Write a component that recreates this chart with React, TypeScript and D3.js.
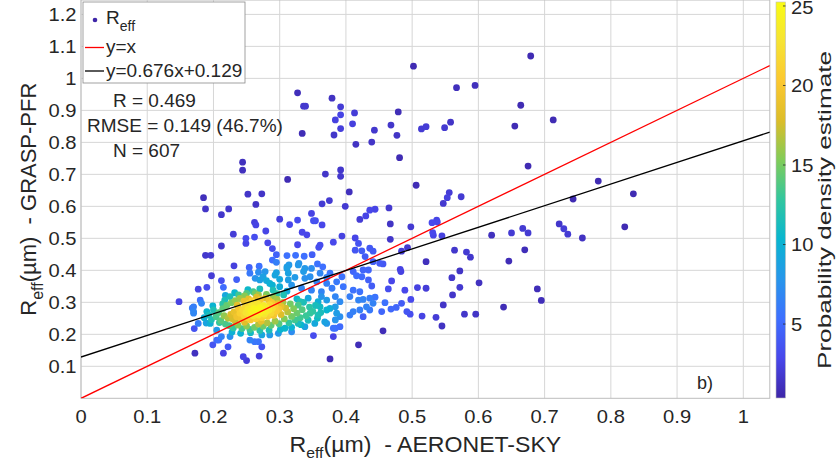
import React from 'react';
import * as d3 from 'd3';

const W = 836;
const H = 463;

// axis ticks
const xTicks = [0, 0.1, 0.2, 0.3, 0.4, 0.5, 0.6, 0.7, 0.8, 0.9, 1];
const yTicks = [0.1, 0.2, 0.3, 0.4, 0.5, 0.6, 0.7, 0.8, 0.9, 1, 1.1, 1.2];
const cbTicks = [5, 10, 15, 20, 25];
const parulaStops = ['#3e26a8', '#4847eb', '#3e6fff', '#2796eb', '#08b5d0', '#31c69f', '#80cc59', '#dcbd29', '#fcc830', '#f6e334', '#f9fb14'];

const fitSlope = 0.676;
const fitIntercept = 0.129;
const statLines = ['R = 0.469', 'RMSE = 0.149 (46.7%)', 'N = 607'];
const legendLabels = ['y=x', 'y=0.676x+0.129'];

// [AERONET-SKY Reff, GRASP-PFR Reff]
const highPoints = [
  [0.679, 1.070], [0.664, 0.916], [0.655, 0.851], [0.713, 0.870], [0.675, 0.726], [0.781, 0.679], [0.743, 0.623], [0.834, 0.639],
  [0.650, 0.517], [0.667, 0.531], [0.675, 0.517], [0.670, 0.464], [0.646, 0.429], [0.722, 0.545], [0.729, 0.530], [0.735, 0.513],
  [0.757, 0.501], [0.821, 0.536], [0.689, 0.342], [0.695, 0.306], [0.638, 0.285],
  [0.502, 1.038], [0.567, 0.971], [0.595, 0.978], [0.379, 0.938], [0.392, 0.911], [0.392, 0.886], [0.384, 0.870], [0.413, 0.892],
  [0.410, 0.858], [0.392, 0.843], [0.382, 0.823], [0.415, 0.794], [0.443, 0.838], [0.439, 0.801], [0.468, 0.854], [0.479, 0.895],
  [0.477, 0.822], [0.481, 0.752], [0.514, 0.842], [0.521, 0.849], [0.549, 0.846], [0.558, 0.863],
  [0.369, 0.701], [0.392, 0.714], [0.392, 0.694], [0.506, 0.666], [0.405, 0.645], [0.364, 0.608], [0.375, 0.618], [0.399, 0.600],
  [0.436, 0.588], [0.444, 0.591], [0.465, 0.595], [0.430, 0.570], [0.421, 0.559], [0.556, 0.643], [0.553, 0.627], [0.547, 0.609],
  [0.574, 0.630], [0.537, 0.557],
  [0.327, 0.955], [0.336, 0.913], [0.339, 0.913], [0.334, 0.828], [0.244, 0.738], [0.244, 0.713], [0.312, 0.684], [0.185, 0.627],
  [0.188, 0.592], [0.252, 0.638], [0.273, 0.639], [0.264, 0.606], [0.223, 0.592], [0.212, 0.574], [0.300, 0.560], [0.262, 0.550],
  [0.264, 0.542], [0.327, 0.557], [0.315, 0.543], [0.348, 0.578], [0.351, 0.555], [0.354, 0.555], [0.364, 0.542],
  [0.230, 0.513], [0.249, 0.500], [0.249, 0.484], [0.262, 0.504], [0.279, 0.523], [0.282, 0.486], [0.289, 0.468], [0.334, 0.519],
  [0.341, 0.511], [0.327, 0.480], [0.361, 0.479], [0.359, 0.472], [0.212, 0.476],
];

const midPoints = [
  [0.188, 0.447], [0.196, 0.447], [0.295, 0.449], [0.311, 0.446], [0.324, 0.447], [0.337, 0.444], [0.349, 0.449], [0.231, 0.414],
  [0.254, 0.409], [0.269, 0.413], [0.289, 0.432], [0.295, 0.425], [0.314, 0.417], [0.329, 0.422], [0.338, 0.406], [0.357, 0.420],
  [0.365, 0.411], [0.197, 0.383], [0.212, 0.368], [0.215, 0.347], [0.235, 0.371], [0.255, 0.391], [0.268, 0.394], [0.263, 0.375],
  [0.275, 0.380], [0.280, 0.368], [0.289, 0.354], [0.295, 0.393], [0.300, 0.372], [0.311, 0.411], [0.313, 0.391], [0.323, 0.378],
  [0.336, 0.396], [0.346, 0.380], [0.361, 0.391], [0.371, 0.378],
  [0.190, 0.347], [0.177, 0.341], [0.180, 0.307], [0.148, 0.302], [0.168, 0.282], [0.170, 0.271], [0.171, 0.218], [0.172, 0.141],
  [0.199, 0.167], [0.208, 0.182], [0.212, 0.193], [0.222, 0.161], [0.215, 0.141], [0.250, 0.118], [0.269, 0.132], [0.273, 0.161],
  [0.262, 0.177], [0.255, 0.182], [0.351, 0.196], [0.376, 0.123],
  [0.394, 0.507], [0.381, 0.488], [0.414, 0.501], [0.419, 0.484], [0.414, 0.463], [0.424, 0.461], [0.436, 0.469], [0.441, 0.460],
  [0.467, 0.545], [0.467, 0.497], [0.498, 0.536], [0.530, 0.549], [0.538, 0.551], [0.531, 0.518], [0.532, 0.510], [0.545, 0.508],
  [0.620, 0.510], [0.484, 0.460], [0.493, 0.471], [0.564, 0.463], [0.582, 0.457], [0.588, 0.441], [0.521, 0.427],
  [0.429, 0.443], [0.441, 0.427], [0.451, 0.422], [0.456, 0.420], [0.434, 0.401], [0.426, 0.401], [0.483, 0.396], [0.482, 0.403],
  [0.572, 0.398], [0.560, 0.377], [0.601, 0.361], [0.469, 0.367], [0.464, 0.342], [0.489, 0.338], [0.508, 0.346], [0.521, 0.344],
  [0.572, 0.347], [0.561, 0.323], [0.498, 0.309], [0.484, 0.297], [0.476, 0.284], [0.468, 0.279], [0.459, 0.299], [0.547, 0.292],
  [0.492, 0.271], [0.497, 0.263], [0.515, 0.257], [0.536, 0.253], [0.579, 0.263], [0.596, 0.263], [0.545, 0.226], [0.456, 0.211],
  [0.419, 0.167], [0.454, 0.271],
  [0.394, 0.380], [0.411, 0.396], [0.416, 0.383], [0.424, 0.380], [0.434, 0.370], [0.439, 0.351], [0.411, 0.338], [0.421, 0.333],
  [0.396, 0.349], [0.406, 0.318], [0.419, 0.307], [0.426, 0.309], [0.436, 0.313], [0.444, 0.316], [0.441, 0.297], [0.431, 0.286],
  [0.421, 0.276], [0.411, 0.271], [0.406, 0.260], [0.426, 0.255], [0.436, 0.276], [0.391, 0.302], [0.384, 0.286], [0.391, 0.255],
  [0.381, 0.219], [0.391, 0.224], [0.371, 0.276], [0.371, 0.234], [0.363, 0.318], [0.361, 0.286],
];

const clusterPoints = [
  [0.311, 0.406], [0.328, 0.417], [0.348, 0.406], [0.376, 0.391], [0.386, 0.364], [0.371, 0.359], [0.356, 0.364], [0.338, 0.375],
  [0.313, 0.370], [0.293, 0.385], [0.278, 0.396], [0.270, 0.370], [0.285, 0.359], [0.300, 0.349], [0.318, 0.354], [0.333, 0.344],
  [0.348, 0.338], [0.363, 0.333], [0.379, 0.344], [0.384, 0.318], [0.371, 0.307], [0.358, 0.302], [0.343, 0.313], [0.331, 0.302],
  [0.376, 0.281], [0.386, 0.266], [0.384, 0.245], [0.368, 0.239], [0.353, 0.234], [0.338, 0.224], [0.328, 0.234], [0.358, 0.260],
  [0.346, 0.266], [0.318, 0.208], [0.308, 0.219], [0.298, 0.203], [0.285, 0.198], [0.273, 0.198], [0.268, 0.177], [0.384, 0.219],
  [0.381, 0.193],
  [0.170, 0.286], [0.170, 0.266], [0.182, 0.297], [0.190, 0.271], [0.200, 0.276], [0.177, 0.234], [0.195, 0.234], [0.205, 0.213],
  [0.205, 0.182], [0.225, 0.193], [0.225, 0.318], [0.238, 0.323], [0.250, 0.328], [0.260, 0.333], [0.268, 0.323], [0.245, 0.130],
  [0.193, 0.260], [0.197, 0.246], [0.199, 0.289], [0.186, 0.252], [0.189, 0.235], [0.228, 0.207], [0.241, 0.203], [0.256, 0.205],
  [0.270, 0.212], [0.284, 0.213], [0.340, 0.258], [0.345, 0.285], [0.343, 0.244], [0.350, 0.272], [0.354, 0.290], [0.336, 0.300],
  [0.326, 0.311], [0.311, 0.335], [0.290, 0.338], [0.270, 0.342], [0.252, 0.340], [0.232, 0.330], [0.218, 0.322], [0.301, 0.215],
  [0.318, 0.222], [0.332, 0.230], [0.357, 0.250], [0.362, 0.268],
];

const corePoints = [
  [0.226, 0.262], [0.231, 0.270], [0.235, 0.255], [0.238, 0.281], [0.240, 0.266], [0.242, 0.248], [0.244, 0.276], [0.246, 0.259],
  [0.248, 0.287], [0.249, 0.268], [0.251, 0.252], [0.252, 0.279], [0.254, 0.263], [0.256, 0.245], [0.257, 0.272], [0.258, 0.290],
  [0.260, 0.258], [0.261, 0.281], [0.263, 0.266], [0.264, 0.249], [0.266, 0.275], [0.267, 0.295], [0.268, 0.260], [0.270, 0.284],
  [0.271, 0.268], [0.273, 0.252], [0.274, 0.278], [0.276, 0.290], [0.277, 0.263], [0.279, 0.271], [0.280, 0.283], [0.282, 0.256],
  [0.284, 0.276], [0.285, 0.293], [0.287, 0.266], [0.289, 0.281], [0.291, 0.259], [0.293, 0.288], [0.295, 0.272], [0.297, 0.296],
  [0.299, 0.279], [0.236, 0.291], [0.229, 0.248], [0.233, 0.240], [0.247, 0.238], [0.253, 0.296], [0.262, 0.300], [0.272, 0.241],
  [0.288, 0.300], [0.302, 0.287],
  [0.204, 0.255], [0.208, 0.268], [0.211, 0.243], [0.214, 0.280], [0.216, 0.258], [0.218, 0.232], [0.220, 0.290], [0.222, 0.250],
  [0.224, 0.227], [0.227, 0.299], [0.230, 0.220], [0.233, 0.305], [0.237, 0.229], [0.240, 0.312], [0.243, 0.218], [0.246, 0.304],
  [0.250, 0.226], [0.253, 0.311], [0.255, 0.215], [0.258, 0.305], [0.262, 0.222], [0.265, 0.316], [0.268, 0.232], [0.271, 0.308],
  [0.275, 0.225], [0.278, 0.313], [0.281, 0.236], [0.284, 0.306], [0.287, 0.228], [0.290, 0.317], [0.293, 0.241], [0.296, 0.309],
  [0.299, 0.233], [0.302, 0.262], [0.305, 0.300], [0.307, 0.248], [0.309, 0.282], [0.312, 0.270], [0.314, 0.236], [0.316, 0.295],
  [0.318, 0.256], [0.321, 0.280], [0.323, 0.245], [0.326, 0.266], [0.328, 0.291], [0.331, 0.252], [0.334, 0.277], [0.306, 0.323],
  [0.296, 0.327], [0.280, 0.325], [0.263, 0.328], [0.247, 0.320], [0.214, 0.295], [0.209, 0.237], [0.217, 0.307],
];

const FONT = '"Liberation Sans", Arial, Helvetica, sans-serif';
const INK = '#262626';

export default function App() {
  const left = 81, right = 769.8, top = 0, bottom = 398.3;
  const x = d3.scaleLinear().domain([0, 1.04]).range([left, right]);
  const y = d3.scaleLinear().domain([0, 1.245]).range([bottom, top]);

  const cbX = 776, cbW = 9.5, cbTop = 2, cbBottom = 398;
  const cbMin = 0.35, cbMax = 25.25;
  const cb = d3.scaleLinear().domain([cbMin, cbMax]).range([cbBottom, cbTop]);
  const parula = d3.scaleLinear<string>()
    .domain(parulaStops.map((_, i) => cbMin + ((cbMax - cbMin) * i) / (parulaStops.length - 1)))
    .range(parulaStops)
    .interpolate(d3.interpolateRgb)
    .clamp(true);

  const all = [...highPoints, ...midPoints, ...clusterPoints, ...corePoints];
  const hx = 0.022, hy = 0.022;
  const raw = all.map(([a, b]) => {
    let s = 0;
    for (const [u, v] of all) {
      const dx = (a - u) / hx, dy = (b - v) / hy;
      s += Math.exp(-0.5 * (dx * dx + dy * dy));
    }
    return s / (all.length * 2 * Math.PI * hx * hy);
  });
  const maxD = d3.max(raw) as number;
  const pts = all
    .map((p, i) => ({ p, d: (raw[i] / maxD) * 24.8 }))
    .sort((a, b) => a.d - b.d);

  const line = d3.line<number>().x((v) => x(v)).y((v) => y(v));
  const fit = d3.line<number>().x((v) => x(v)).y((v) => y(fitSlope * v + fitIntercept));
  const lineXs = [0, 1.04];

  const tickStyle = { fontFamily: FONT, fontSize: 18, fill: INK } as const;

  return (
    <svg width={W} height={H} style={{ position: 'absolute', left: 0, top: 0, background: '#fff' }}>
      <defs>
        <clipPath id="plotClip">
          <rect x={left} y={top} width={right - left} height={bottom - top} />
        </clipPath>
        <linearGradient id="parulaGrad" x1="0" y1="1" x2="0" y2="0">
          {parulaStops.map((c, i) => (
            <stop key={i} offset={i / (parulaStops.length - 1)} stopColor={c} />
          ))}
        </linearGradient>
      </defs>
      <rect x={0} y={0} width={W} height={H} fill="#fff" />

      {/* grid */}
      <g stroke="#d6d6d6" strokeWidth={1}>
        {xTicks.map((t) => (
          <line key={'gx' + t} x1={x(t)} x2={x(t)} y1={top} y2={bottom} />
        ))}
        {yTicks.map((t) => (
          <line key={'gy' + t} x1={left} x2={right} y1={y(t)} y2={y(t)} />
        ))}
      </g>
      <rect x={left} y={top} width={right - left} height={bottom - top} fill="none" stroke="#bdbdbd" strokeWidth={1} />

      {/* tick labels */}
      {xTicks.map((t) => (
        <g key={'tx' + t} transform={`translate(${x(t)},${423}) scale(1.12,1)`}>
          <text textAnchor="middle" {...tickStyle}>{d3.format('~g')(t)}</text>
        </g>
      ))}
      {yTicks.map((t) => (
        <g key={'ty' + t} transform={`translate(${76.5},${y(t) + 6.5}) scale(1.12,1)`}>
          <text textAnchor="end" {...tickStyle}>{d3.format('~g')(t)}</text>
        </g>
      ))}

      {/* points */}
      <g clipPath="url(#plotClip)">
        {pts.map(({ p, d }, i) => (
          <circle key={i} cx={x(p[0])} cy={y(p[1])} r={3.4} fill={parula(d)} />
        ))}
        <path d={line(lineXs) as string} stroke="#ff0000" strokeWidth={1.3} fill="none" />
        <path d={fit(lineXs) as string} stroke="#000" strokeWidth={1.3} fill="none" />
      </g>

      {/* legend */}
      <rect x={83} y={2} width={162} height={81} fill="#fff" stroke="#8a8a8a" strokeWidth={0.8} />
      <circle cx={95} cy={20} r={2.3} fill={parulaStops[0]} />
      <text x={106} y={24} fontFamily={FONT} fontSize={19} fill={INK}>
        R<tspan fontSize={14} dy={7}>eff</tspan>
      </text>
      <line x1={85} x2={104} y1={47.5} y2={47.5} stroke="#ff0000" strokeWidth={1.3} />
      <text x={106} y={53} fontFamily={FONT} fontSize={19} fill={INK}>{legendLabels[0]}</text>
      <line x1={85} x2={104} y1={71} y2={71} stroke="#000" strokeWidth={1.3} />
      <text x={106} y={77} fontFamily={FONT} fontSize={19} fill={INK}>{legendLabels[1]}</text>

      {/* stats */}
      <text x={113} y={107} fontFamily={FONT} fontSize={19} fill={INK} style={{ whiteSpace: 'pre' }}>{statLines[0]}</text>
      <text x={87} y={132} fontFamily={FONT} fontSize={19} fill={INK} style={{ whiteSpace: 'pre' }}>{statLines[1]}</text>
      <text x={113} y={157} fontFamily={FONT} fontSize={19} fill={INK} style={{ whiteSpace: 'pre' }}>{statLines[2]}</text>

      <text x={697} y={389} fontFamily={FONT} fontSize={18} fill={INK}>b)</text>

      {/* axis labels */}
      <g transform={`translate(${(left + right) / 2},452) scale(1.05,1)`}>
        <text textAnchor="middle" fontFamily={FONT} fontSize={22} fill={INK} style={{ whiteSpace: 'pre' }}>
          R<tspan fontSize={15} dy={6}>eff</tspan><tspan dy={-6}>(µm)  - AERONET-SKY</tspan>
        </text>
      </g>
      <g transform={`translate(36,${(top + bottom) / 2}) rotate(-90)`}>
        <text textAnchor="middle" fontFamily={FONT} fontSize={22} fill={INK} style={{ whiteSpace: 'pre' }}>
          R<tspan fontSize={16} dy={7}>eff</tspan><tspan dy={-7}>(µm)  - GRASP-PFR</tspan>
        </text>
      </g>

      {/* colorbar */}
      <rect x={cbX} y={cbTop} width={cbW} height={cbBottom - cbTop} fill="url(#parulaGrad)" stroke="#bdbdbd" strokeWidth={0.6} />
      {cbTicks.map((t) => (
        <g key={'cb' + t}>
          <line x1={cbX + cbW - 2.5} x2={cbX + cbW} y1={cb(t)} y2={cb(t)} stroke={INK} strokeWidth={0.8} />
          <g transform={`translate(${791},${Math.max(cb(t) + 6.5, 13.6)}) scale(1.12,1)`}>
            <text textAnchor="start" {...tickStyle}>{t}</text>
          </g>
        </g>
      ))}
      <g transform={`translate(831,${(cbTop + cbBottom) / 2 + 10}) rotate(-90)`}>
        <text textAnchor="middle" fontFamily={FONT} fontSize={18} fill={INK} textLength={318} lengthAdjust="spacingAndGlyphs">
          Probability density estimate
        </text>
      </g>
    </svg>
  );
}
